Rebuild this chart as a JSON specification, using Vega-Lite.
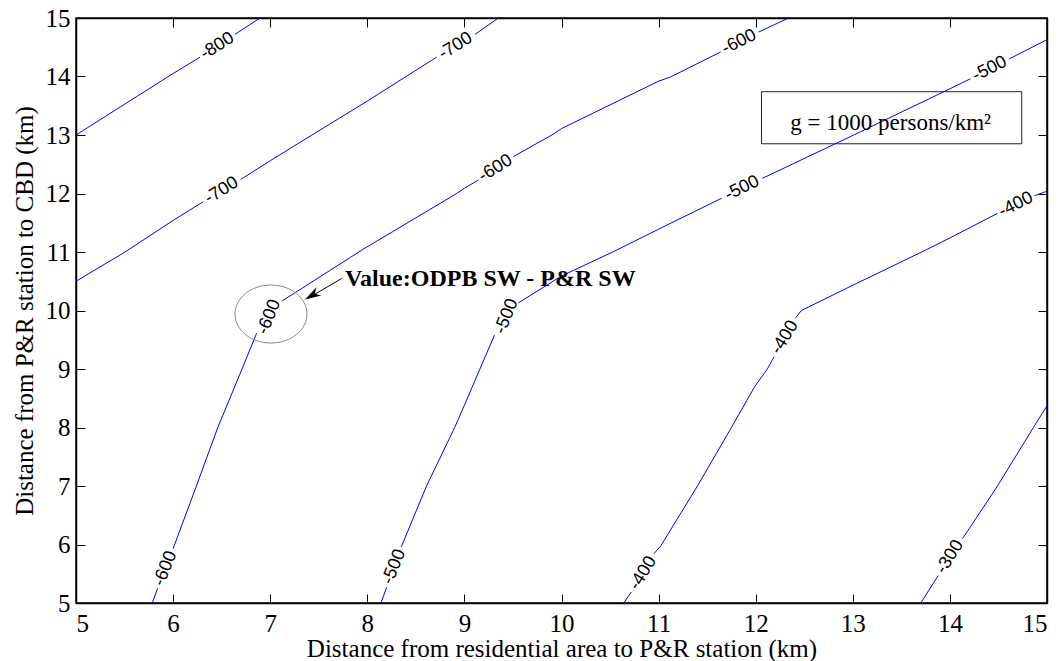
{
  "$schema": "https://vega.github.io/schema/vega-lite/v6.json",
  "width": 971,
  "height": 585,
  "autosize": {"type": "none"},
  "padding": {"left": 76, "top": 18, "right": 15, "bottom": 58},
  "background": "white",
  "config": {
    "view": {"stroke": "black", "strokeWidth": 1.5},
    "axis": {
      "domainColor": "black",
      "domainWidth": 1.5,
      "tickColor": "black",
      "tickWidth": 1,
      "tickSize": -9,
      "labelFont": "Liberation Serif",
      "labelFontSize": 25,
      "labelColor": "black",
      "titleFont": "Liberation Serif",
      "titleFontSize": 25,
      "titleFontWeight": "normal",
      "titleColor": "black",
      "grid": false
    }
  },
  "datasets": {
    "contours": [
      {"seg": "m800a", "x": 5, "y": 13},
      {"seg": "m800a", "x": 5.97, "y": 14.02},
      {"seg": "m800a", "x": 6.277, "y": 14.33},
      {"seg": "m800b", "x": 6.637, "y": 14.72},
      {"seg": "m800b", "x": 6.895, "y": 15},
      {"seg": "m700a", "x": 5, "y": 10.5},
      {"seg": "m700a", "x": 5.505, "y": 11.0},
      {"seg": "m700a", "x": 6.0, "y": 11.54},
      {"seg": "m700a", "x": 6.311, "y": 11.86},
      {"seg": "m700b", "x": 6.696, "y": 12.24},
      {"seg": "m700b", "x": 7.0, "y": 12.56},
      {"seg": "m700b", "x": 7.43, "y": 13.0},
      {"seg": "m700b", "x": 8.0, "y": 13.58},
      {"seg": "m700b", "x": 8.39, "y": 13.99},
      {"seg": "m700b", "x": 8.714, "y": 14.33},
      {"seg": "m700c", "x": 9.109, "y": 14.72},
      {"seg": "m700c", "x": 9.35, "y": 15},
      {"seg": "m600a", "x": 5.786, "y": 5},
      {"seg": "m600a", "x": 5.84, "y": 5.25},
      {"seg": "m600b", "x": 6.0, "y": 5.93},
      {"seg": "m600b", "x": 6.24, "y": 7.0},
      {"seg": "m600b", "x": 6.46, "y": 8.0},
      {"seg": "m600b", "x": 6.71, "y": 9.0},
      {"seg": "m600b", "x": 6.86, "y": 9.61},
      {"seg": "m600c", "x": 7.12, "y": 10.16},
      {"seg": "m600c", "x": 7.96, "y": 11.05},
      {"seg": "m600c", "x": 8.92, "y": 12.0},
      {"seg": "m600c", "x": 9.0, "y": 12.09},
      {"seg": "m600c", "x": 9.144, "y": 12.23},
      {"seg": "m600d", "x": 9.504, "y": 12.63},
      {"seg": "m600d", "x": 9.9, "y": 13.0},
      {"seg": "m600d", "x": 10.0, "y": 13.11},
      {"seg": "m600d", "x": 11.0, "y": 13.92},
      {"seg": "m600d", "x": 11.12, "y": 13.99},
      {"seg": "m600d", "x": 11.64, "y": 14.42},
      {"seg": "m600e", "x": 12.03, "y": 14.76},
      {"seg": "m600e", "x": 12.34, "y": 15},
      {"seg": "m500a", "x": 8.14, "y": 5},
      {"seg": "m500a", "x": 8.2, "y": 5.27},
      {"seg": "m500b", "x": 8.35, "y": 5.96},
      {"seg": "m500b", "x": 8.61, "y": 7.0},
      {"seg": "m500b", "x": 8.9, "y": 8.0},
      {"seg": "m500b", "x": 9.0, "y": 8.38},
      {"seg": "m500b", "x": 9.16, "y": 9.0},
      {"seg": "m500b", "x": 9.31, "y": 9.58},
      {"seg": "m500c", "x": 9.555, "y": 10.13},
      {"seg": "m500c", "x": 10.0, "y": 10.59},
      {"seg": "m500c", "x": 10.54, "y": 11.01},
      {"seg": "m500c", "x": 11.0, "y": 11.39},
      {"seg": "m500c", "x": 11.65, "y": 11.92},
      {"seg": "m500d", "x": 12.07, "y": 12.26},
      {"seg": "m500d", "x": 13.01, "y": 13.0},
      {"seg": "m500d", "x": 14.0, "y": 13.79},
      {"seg": "m500d", "x": 14.21, "y": 13.96},
      {"seg": "m500e", "x": 14.61, "y": 14.3},
      {"seg": "m500e", "x": 15.0, "y": 14.63},
      {"seg": "m400a", "x": 10.64, "y": 5},
      {"seg": "m400a", "x": 10.72, "y": 5.19},
      {"seg": "m400b", "x": 10.95, "y": 5.84},
      {"seg": "m400b", "x": 11.02, "y": 5.97},
      {"seg": "m400b", "x": 11.4, "y": 7.0},
      {"seg": "m400b", "x": 11.75, "y": 8.0},
      {"seg": "m400b", "x": 11.99, "y": 8.7},
      {"seg": "m400b", "x": 12.12, "y": 9.0},
      {"seg": "m400b", "x": 12.19, "y": 9.21},
      {"seg": "m400c", "x": 12.41, "y": 9.87},
      {"seg": "m400c", "x": 12.47, "y": 10.0},
      {"seg": "m400c", "x": 13.01, "y": 10.44},
      {"seg": "m400c", "x": 13.71, "y": 11.0},
      {"seg": "m400c", "x": 14.0, "y": 11.24},
      {"seg": "m400c", "x": 14.49, "y": 11.66},
      {"seg": "m400d", "x": 14.87, "y": 11.96},
      {"seg": "m400d", "x": 15.0, "y": 12.04},
      {"seg": "m300a", "x": 13.7, "y": 5},
      {"seg": "m300a", "x": 13.88, "y": 5.47},
      {"seg": "m300b", "x": 14.13, "y": 6.1},
      {"seg": "m300b", "x": 14.49, "y": 7.0},
      {"seg": "m300b", "x": 14.86, "y": 8.0},
      {"seg": "m300b", "x": 15.0, "y": 8.37}
    ],
    "labels": [
      {"grp": "A", "label": "-800", "x": 6.456, "y": 14.52},
      {"grp": "A", "label": "-700", "x": 6.5, "y": 12.05},
      {"grp": "A", "label": "-700", "x": 8.91, "y": 14.52},
      {"grp": "A", "label": "-600", "x": 9.32, "y": 12.43},
      {"grp": "B", "label": "-600", "x": 11.83, "y": 14.59},
      {"grp": "B", "label": "-500", "x": 11.86, "y": 12.09},
      {"grp": "B", "label": "-500", "x": 14.41, "y": 14.13},
      {"grp": "B", "label": "-400", "x": 14.68, "y": 11.81},
      {"grp": "C", "label": "-600", "x": 5.92, "y": 5.59},
      {"grp": "C", "label": "-600", "x": 6.99, "y": 9.89},
      {"grp": "C", "label": "-500", "x": 8.275, "y": 5.62},
      {"grp": "C", "label": "-500", "x": 9.435, "y": 9.9},
      {"grp": "D", "label": "-400", "x": 10.84, "y": 5.51},
      {"grp": "D", "label": "-400", "x": 12.3, "y": 9.54},
      {"grp": "D", "label": "-300", "x": 14.0, "y": 5.79}
    ],
    "frame": [{"x": 5, "y": 5}, {"x": 15, "y": 15}],
    "box": [{"x": 12.06, "x2": 14.74, "y": 13.74, "y2": 12.85, "tx": 13.39, "ty": 13.08, "text": "g = 1000 persons/km²"}],
    "ellipse": [{"x": 7.008, "y": 9.94}],
    "arrow": [{"x": 7.737, "y": 10.548, "x2": 7.39, "y2": 10.21}],
    "arrowhead": [{"x": 7.43, "y": 10.257}],
    "note": [{"x": 7.77, "y": 10.416, "text": "Value:ODPB SW - P&R SW"}]
  },
  "resolve": {"axis": {"x": "independent", "y": "independent"}},
  "layer": [
    {
      "data": {"name": "frame"},
      "mark": {"type": "point", "opacity": 0},
      "encoding": {
        "x": {"field": "x", "type": "quantitative", "scale": {"domain": [5, 15], "nice": false, "zero": false},
              "axis": {"orient": "bottom", "values": [5,6,7,8,9,10,11,12,13,14,15], "labelPadding": 17, "title": "Distance from residential area to P&R station (km)", "titlePadding": 0}},
        "y": {"field": "y", "type": "quantitative", "scale": {"domain": [5, 15], "nice": false, "zero": false},
              "axis": {"orient": "left", "values": [5,6,7,8,9,10,11,12,13,14,15], "labelPadding": 15, "title": "Distance from P&R station to CBD (km)", "titlePadding": 8}}
      }
    },
    {
      "data": {"name": "frame"},
      "mark": {"type": "point", "opacity": 0},
      "encoding": {
        "x": {"field": "x", "type": "quantitative", "axis": {"orient": "top", "values": [5,6,7,8,9,10,11,12,13,14,15], "labels": false, "title": null}},
        "y": {"field": "y", "type": "quantitative", "axis": {"orient": "right", "values": [5,6,7,8,9,10,11,12,13,14,15], "labels": false, "title": null}}
      }
    },
    {
      "data": {"name": "contours"},
      "mark": {"type": "line", "color": "#0000ff", "strokeWidth": 1, "clip": true},
      "encoding": {
        "x": {"field": "x", "type": "quantitative", "axis": null},
        "y": {"field": "y", "type": "quantitative", "axis": null},
        "detail": {"field": "seg", "type": "nominal"}
      }
    },
    {
      "data": {"name": "labels"},
      "transform": [{"filter": "datum.grp == 'A'"}],
      "mark": {"type": "text", "font": "Liberation Sans", "fontSize": 18, "angle": -32, "color": "black", "align": "center", "baseline": "middle"},
      "encoding": {
        "x": {"field": "x", "type": "quantitative", "axis": null},
        "y": {"field": "y", "type": "quantitative", "axis": null},
        "text": {"field": "label"}
      }
    },
    {
      "data": {"name": "labels"},
      "transform": [{"filter": "datum.grp == 'B'"}],
      "mark": {"type": "text", "font": "Liberation Sans", "fontSize": 18, "angle": -26.5, "color": "black", "align": "center", "baseline": "middle"},
      "encoding": {
        "x": {"field": "x", "type": "quantitative", "axis": null},
        "y": {"field": "y", "type": "quantitative", "axis": null},
        "text": {"field": "label"}
      }
    },
    {
      "data": {"name": "labels"},
      "transform": [{"filter": "datum.grp == 'C'"}],
      "mark": {"type": "text", "font": "Liberation Sans", "fontSize": 18, "angle": -68, "color": "black", "align": "center", "baseline": "middle"},
      "encoding": {
        "x": {"field": "x", "type": "quantitative", "axis": null},
        "y": {"field": "y", "type": "quantitative", "axis": null},
        "text": {"field": "label"}
      }
    },
    {
      "data": {"name": "labels"},
      "transform": [{"filter": "datum.grp == 'D'"}],
      "mark": {"type": "text", "font": "Liberation Sans", "fontSize": 18, "angle": -58, "color": "black", "align": "center", "baseline": "middle"},
      "encoding": {
        "x": {"field": "x", "type": "quantitative", "axis": null},
        "y": {"field": "y", "type": "quantitative", "axis": null},
        "text": {"field": "label"}
      }
    },
    {
      "data": {"name": "box"},
      "mark": {"type": "rect", "fill": null, "fillOpacity": 0, "stroke": "#222222", "strokeWidth": 1},
      "encoding": {
        "x": {"field": "x", "type": "quantitative", "axis": null},
        "x2": {"field": "x2"},
        "y": {"field": "y", "type": "quantitative", "axis": null},
        "y2": {"field": "y2"}
      }
    },
    {
      "data": {"name": "box"},
      "mark": {"type": "text", "font": "Liberation Serif", "fontSize": 23, "color": "black", "align": "center", "baseline": "alphabetic"},
      "encoding": {
        "x": {"field": "tx", "type": "quantitative", "axis": null},
        "y": {"field": "ty", "type": "quantitative", "axis": null},
        "text": {"field": "text"}
      }
    },
    {
      "data": {"name": "ellipse"},
      "mark": {"type": "point", "shape": "M -1 0 A 1 0.806 0 1 1 1 0 A 1 0.806 0 1 1 -1 0 Z", "size": 5184, "filled": false, "stroke": "#8a8a8a", "strokeWidth": 1, "opacity": 1},
      "encoding": {
        "x": {"field": "x", "type": "quantitative", "axis": null},
        "y": {"field": "y", "type": "quantitative", "axis": null}
      }
    },
    {
      "data": {"name": "arrow"},
      "mark": {"type": "rule", "color": "black", "strokeWidth": 1},
      "encoding": {
        "x": {"field": "x", "type": "quantitative", "axis": null},
        "y": {"field": "y", "type": "quantitative", "axis": null},
        "x2": {"field": "x2"},
        "y2": {"field": "y2"}
      }
    },
    {
      "data": {"name": "arrowhead"},
      "mark": {"type": "point", "shape": "M 1 0 L -1 -0.6 L -0.4 0 L -1 0.6 Z", "size": 256, "angle": 150, "filled": true, "color": "black", "opacity": 1},
      "encoding": {
        "x": {"field": "x", "type": "quantitative", "axis": null},
        "y": {"field": "y", "type": "quantitative", "axis": null}
      }
    },
    {
      "data": {"name": "note"},
      "mark": {"type": "text", "font": "Liberation Serif", "fontSize": 24, "fontWeight": "bold", "color": "black", "align": "left", "baseline": "alphabetic"},
      "encoding": {
        "x": {"field": "x", "type": "quantitative", "axis": null},
        "y": {"field": "y", "type": "quantitative", "axis": null},
        "text": {"field": "text"}
      }
    }
  ]
}
